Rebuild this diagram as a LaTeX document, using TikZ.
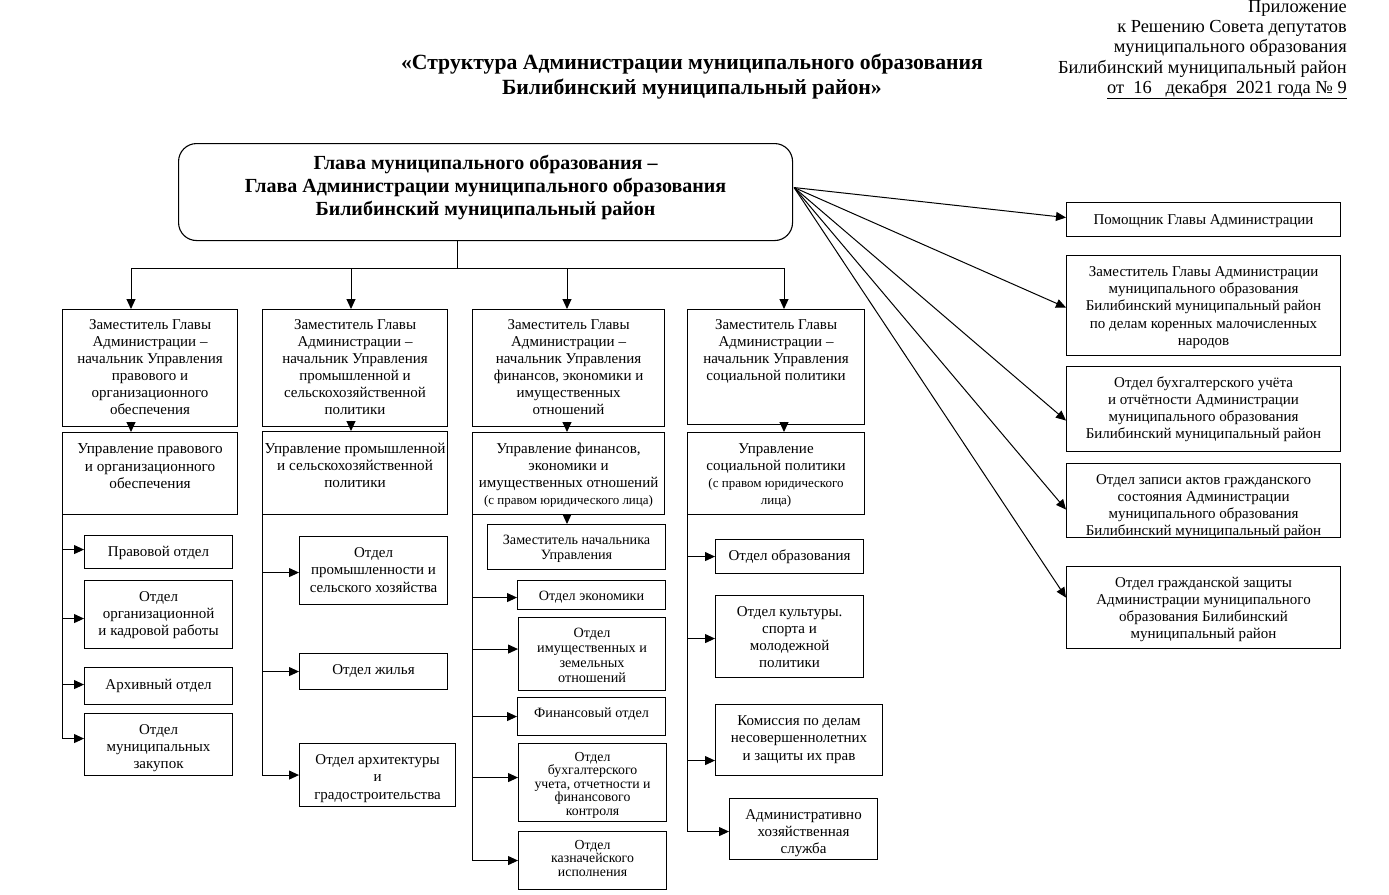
\documentclass[tikz,border=0pt]{standalone}
\usepackage{fontspec}
\setmainfont{Liberation Serif}
\usetikzlibrary{arrows.meta,calc}
\newcommand\fsz[2]{\fontsize{#1}{#2}\selectfont}
\newcommand\bx[8]{%
  \node[boxst,anchor=north west,minimum width={(#4)-(#2)},minimum height={(#5)-(#3)}] (#1) at (#2,#3) {};
  \node[txtst,anchor=north,font=#6] (#1t) at ($(#1.north)+(0,#7)$) {\rule{0pt}{0.95em}#8};
}
\begin{document}
\begin{tikzpicture}[x=1pt,y=-1pt,
  boxst/.style={draw,line width=1.1pt,inner sep=0pt,rectangle},
  txtst/.style={inner sep=0pt,align=center},
  arr/.style={line width=1pt,-{Triangle[length=10pt,width=9pt]}},
  ln/.style={line width=1pt}]
\useasboundingbox (0,0) rectangle (1389,894);
% header
\node[anchor=north east,align=right,inner sep=0pt,font=\fsz{18.4}{20.3}] (hdr) at (1347,-5.5)
 {\rule{0pt}{0.95em}Приложение\\к Решению Совета депутатов\\муниципального образования\\Билибинский муниципальный район\\\underline{от\ \ 16\ \ \ декабря\ \ 2021 года №~9}};
\node[anchor=north,align=center,inner sep=0pt,font=\bfseries\fsz{21.7}{25}] (title) at (692,49)
 {\rule{0pt}{0.95em}«Структура Администрации муниципального образования\\Билибинский муниципальный район»};
% head
\node[boxst,rounded corners=18pt,anchor=north west,minimum width=614,minimum height=97] (head) at (178,143) {};
\node[txtst,anchor=north,font=\bfseries\fsz{20}{23}] (headt) at ($(head.north)+(0,7)$)
 {\rule{0pt}{0.95em}Глава муниципального образования –\\Глава Администрации муниципального образования\\Билибинский муниципальный район};
% deputies
\bx{D1}{62}{309}{237}{426}{\fsz{15}{17}}{6}{Заместитель Главы\\Администрации –\\начальник Управления\\правового и\\организационного\\обеспечения}
\bx{D2}{262}{309}{447}{426}{\fsz{15}{17}}{6}{Заместитель Главы\\Администрации –\\начальник Управления\\промышленной и\\сельскохозяйственной\\политики}
\bx{D3}{472}{309}{664}{426}{\fsz{15}{17}}{6}{Заместитель Главы\\Администрации –\\начальник Управления\\финансов, экономики и\\имущественных\\отношений}
\bx{D4}{687}{309}{864}{424}{\fsz{15}{17}}{6}{Заместитель Главы\\Администрации –\\начальник Управления\\социальной политики}
% departments
\bx{U1}{62}{432}{237}{514}{\fsz{15.2}{17.5}}{7}{Управление правового\\и организационного\\обеспечения}
\bx{U2}{262}{431}{447}{514}{\fsz{15.2}{17.3}}{7.5}{Управление промышленной\\и сельскохозяйственной\\политики}
\bx{U3}{472}{432}{664}{514}{\fsz{15}{17}}{7}{Управление финансов,\\экономики и\\имущественных отношений\\{\fsz{13}{16}(с правом юридического лица)}}
\bx{U4}{687}{432}{864}{514}{\fsz{15}{17}}{7.5}{Управление\\социальной политики\\{\fsz{13}{16}(с правом юридического}\\{\fsz{13}{16}лица)}}
% column 1
\bx{C11}{84}{535}{232}{568}{\fsz{15}{17}}{7}{Правовой отдел}
\bx{C12}{84}{580}{232}{648}{\fsz{15}{17}}{7}{Отдел\\организационной\\и кадровой работы}
\bx{C13}{84}{667}{232}{704}{\fsz{15}{17}}{8}{Архивный отдел}
\bx{C14}{84}{713}{232}{775}{\fsz{15}{17}}{7}{Отдел\\муниципальных\\закупок}
% column 2
\bx{C21}{299}{536}{447}{604}{\fsz{15}{17.5}}{7}{Отдел\\промышленности и\\сельского хозяйства}
\bx{C22}{299}{653}{447}{689}{\fsz{15}{17.5}}{7}{Отдел жилья}
\bx{C23}{299}{743}{455}{806}{\fsz{15}{17.5}}{7}{Отдел архитектуры\\и\\градостроительства}
% column 3
\bx{Z}{487}{524}{665}{569}{\fsz{14.2}{15}}{6.5}{Заместитель начальника\\Управления}
\bx{C31}{517}{580}{665}{609}{\fsz{14.2}{15}}{6.5}{Отдел экономики}
\bx{C32}{518}{617}{665}{690}{\fsz{14.2}{15}}{6.5}{Отдел\\имущественных и\\земельных\\отношений}
\bx{C33}{517}{697}{665}{735}{\fsz{14.2}{15}}{6.5}{Финансовый отдел}
\bx{C34}{518}{743}{666}{821}{\fsz{13.8}{13.5}}{4.7}{Отдел\\бухгалтерского\\учета, отчетности и\\финансового\\контроля}
\bx{C35}{518}{831}{666}{889}{\fsz{13.8}{13.5}}{4.7}{Отдел\\казначейского\\исполнения}
% column 4
\bx{C41}{715}{539}{863}{573}{\fsz{15}{17}}{7}{Отдел образования}
\bx{C42}{715}{595}{863}{677}{\fsz{15}{17}}{7}{Отдел культуры.\\спорта и\\молодежной\\политики}
\bx{C43}{715}{704}{882}{775}{\fsz{15}{17.5}}{7}{Комиссия по делам\\несовершеннолетних\\и защиты их прав}
\bx{C44}{729}{798}{877}{859}{\fsz{15}{17}}{7}{Административно\\хозяйственная\\служба}
% right column
\bx{R1}{1066}{202}{1340}{236}{\fsz{15}{17}}{8}{Помощник Главы Администрации}
\bx{R2}{1066}{255}{1340}{355}{\fsz{15}{17.2}}{7}{Заместитель Главы Администрации\\муниципального образования\\Билибинский муниципальный район\\по делам коренных малочисленных\\народов}
\bx{R3}{1066}{366}{1340}{451}{\fsz{15}{17}}{7}{Отдел бухгалтерского учёта\\и отчётности Администрации\\муниципального образования\\Билибинский муниципальный район}
\bx{R4}{1066}{463}{1340}{537}{\fsz{15}{17}}{7}{Отдел записи актов гражданского\\состояния Администрации\\муниципального образования\\Билибинский муниципальный район}
\bx{R5}{1066}{566}{1340}{648}{\fsz{15}{17}}{7}{Отдел гражданской защиты\\Администрации муниципального\\образования Билибинский\\муниципальный район}
% top bus
\coordinate (hs) at ($(head.south)+(-28,0)$);
\coordinate (bus) at ($(hs)+(0,28)$);
\coordinate (k1) at (131,268);
\coordinate (k2) at (351,268);
\coordinate (k3) at (567,268);
\coordinate (k4) at (784,268);
\draw[ln] (hs) -- (bus);
\draw[ln] (k1) -- (k4);
\foreach \i in {1,2,3,4}{
  \draw[arr] (k\i) -- (k\i |- D\i.north);
  \draw[arr] ($(U\i.north -| k\i)+(0,-10.5)$) -- (U\i.north -| k\i);
}
\draw[arr] (U3.south -| k3) -- (Z.north -| k3);
% column 1
\draw[ln] (U1.south west) -- ($(U1.south west |- C14.west)+(0,-6)$);
\draw[arr] ($(U1.south west |- C11.west)+(0,-2.5)$) -- ([yshift=2.5pt]C11.west);
\draw[arr] ($(U1.south west |- C12.west)+(0,4)$) -- ([yshift=-4pt]C12.west);
\draw[arr] ($(U1.south west |- C13.west)+(0,-1.5)$) -- ([yshift=1.5pt]C13.west);
\draw[arr] ($(U1.south west |- C14.west)+(0,-6)$) -- ([yshift=6pt]C14.west);
% column 2
\draw[ln] (U2.south west) -- (U2.south west |- C23.west);
\draw[arr] ($(U2.south west |- C21.west)+(0,2)$) -- ([yshift=-2pt]C21.west);
\draw[arr] (U2.south west |- C22.west) -- (C22.west);
\draw[arr] (U2.south west |- C23.west) -- (C23.west);
% column 3
\draw[ln] (U3.south west) -- (U3.south west |- C35.west);
\draw[arr] ($(U3.south west |- C31.west)+(0,2.5)$) -- ([yshift=-2.5pt]C31.west);
\draw[arr] ($(U3.south west |- C32.west)+(0,-5)$) -- ([yshift=5pt]C32.west);
\draw[arr] (U3.south west |- C33.west) -- (C33.west);
\draw[arr] ($(U3.south west |- C34.west)+(0,-5)$) -- ([yshift=5pt]C34.west);
\draw[arr] (U3.south west |- C35.west) -- (C35.west);
% column 4
\draw[ln] (U4.south west) -- ($(U4.south west |- C44.west)+(0,2.5)$);
\draw[arr] (U4.south west |- C41.west) -- (C41.west);
\draw[arr] ($(U4.south west |- C42.west)+(0,2)$) -- ([yshift=-2pt]C42.west);
\draw[arr] ($(U4.south west |- C43.west)+(0,20.5)$) -- ([yshift=-20.5pt]C43.west);
\draw[arr] ($(U4.south west |- C44.west)+(0,2.5)$) -- ([yshift=-2.5pt]C44.west);
% right arrows
\coordinate (hr) at ($(head.east)+(1,-4.5)$);
\draw[arr] (hr) -- ([yshift=2pt]R1.west);
\draw[arr] (hr) -- ([yshift=-2pt]R2.west);
\draw[arr] (hr) -- ([yshift=-11.5pt]R3.west);
\draw[arr] (hr) -- ([yshift=-9pt]R4.west);
\draw[arr] (hr) -- ([yshift=10pt]R5.west);
\end{tikzpicture}
\end{document}
